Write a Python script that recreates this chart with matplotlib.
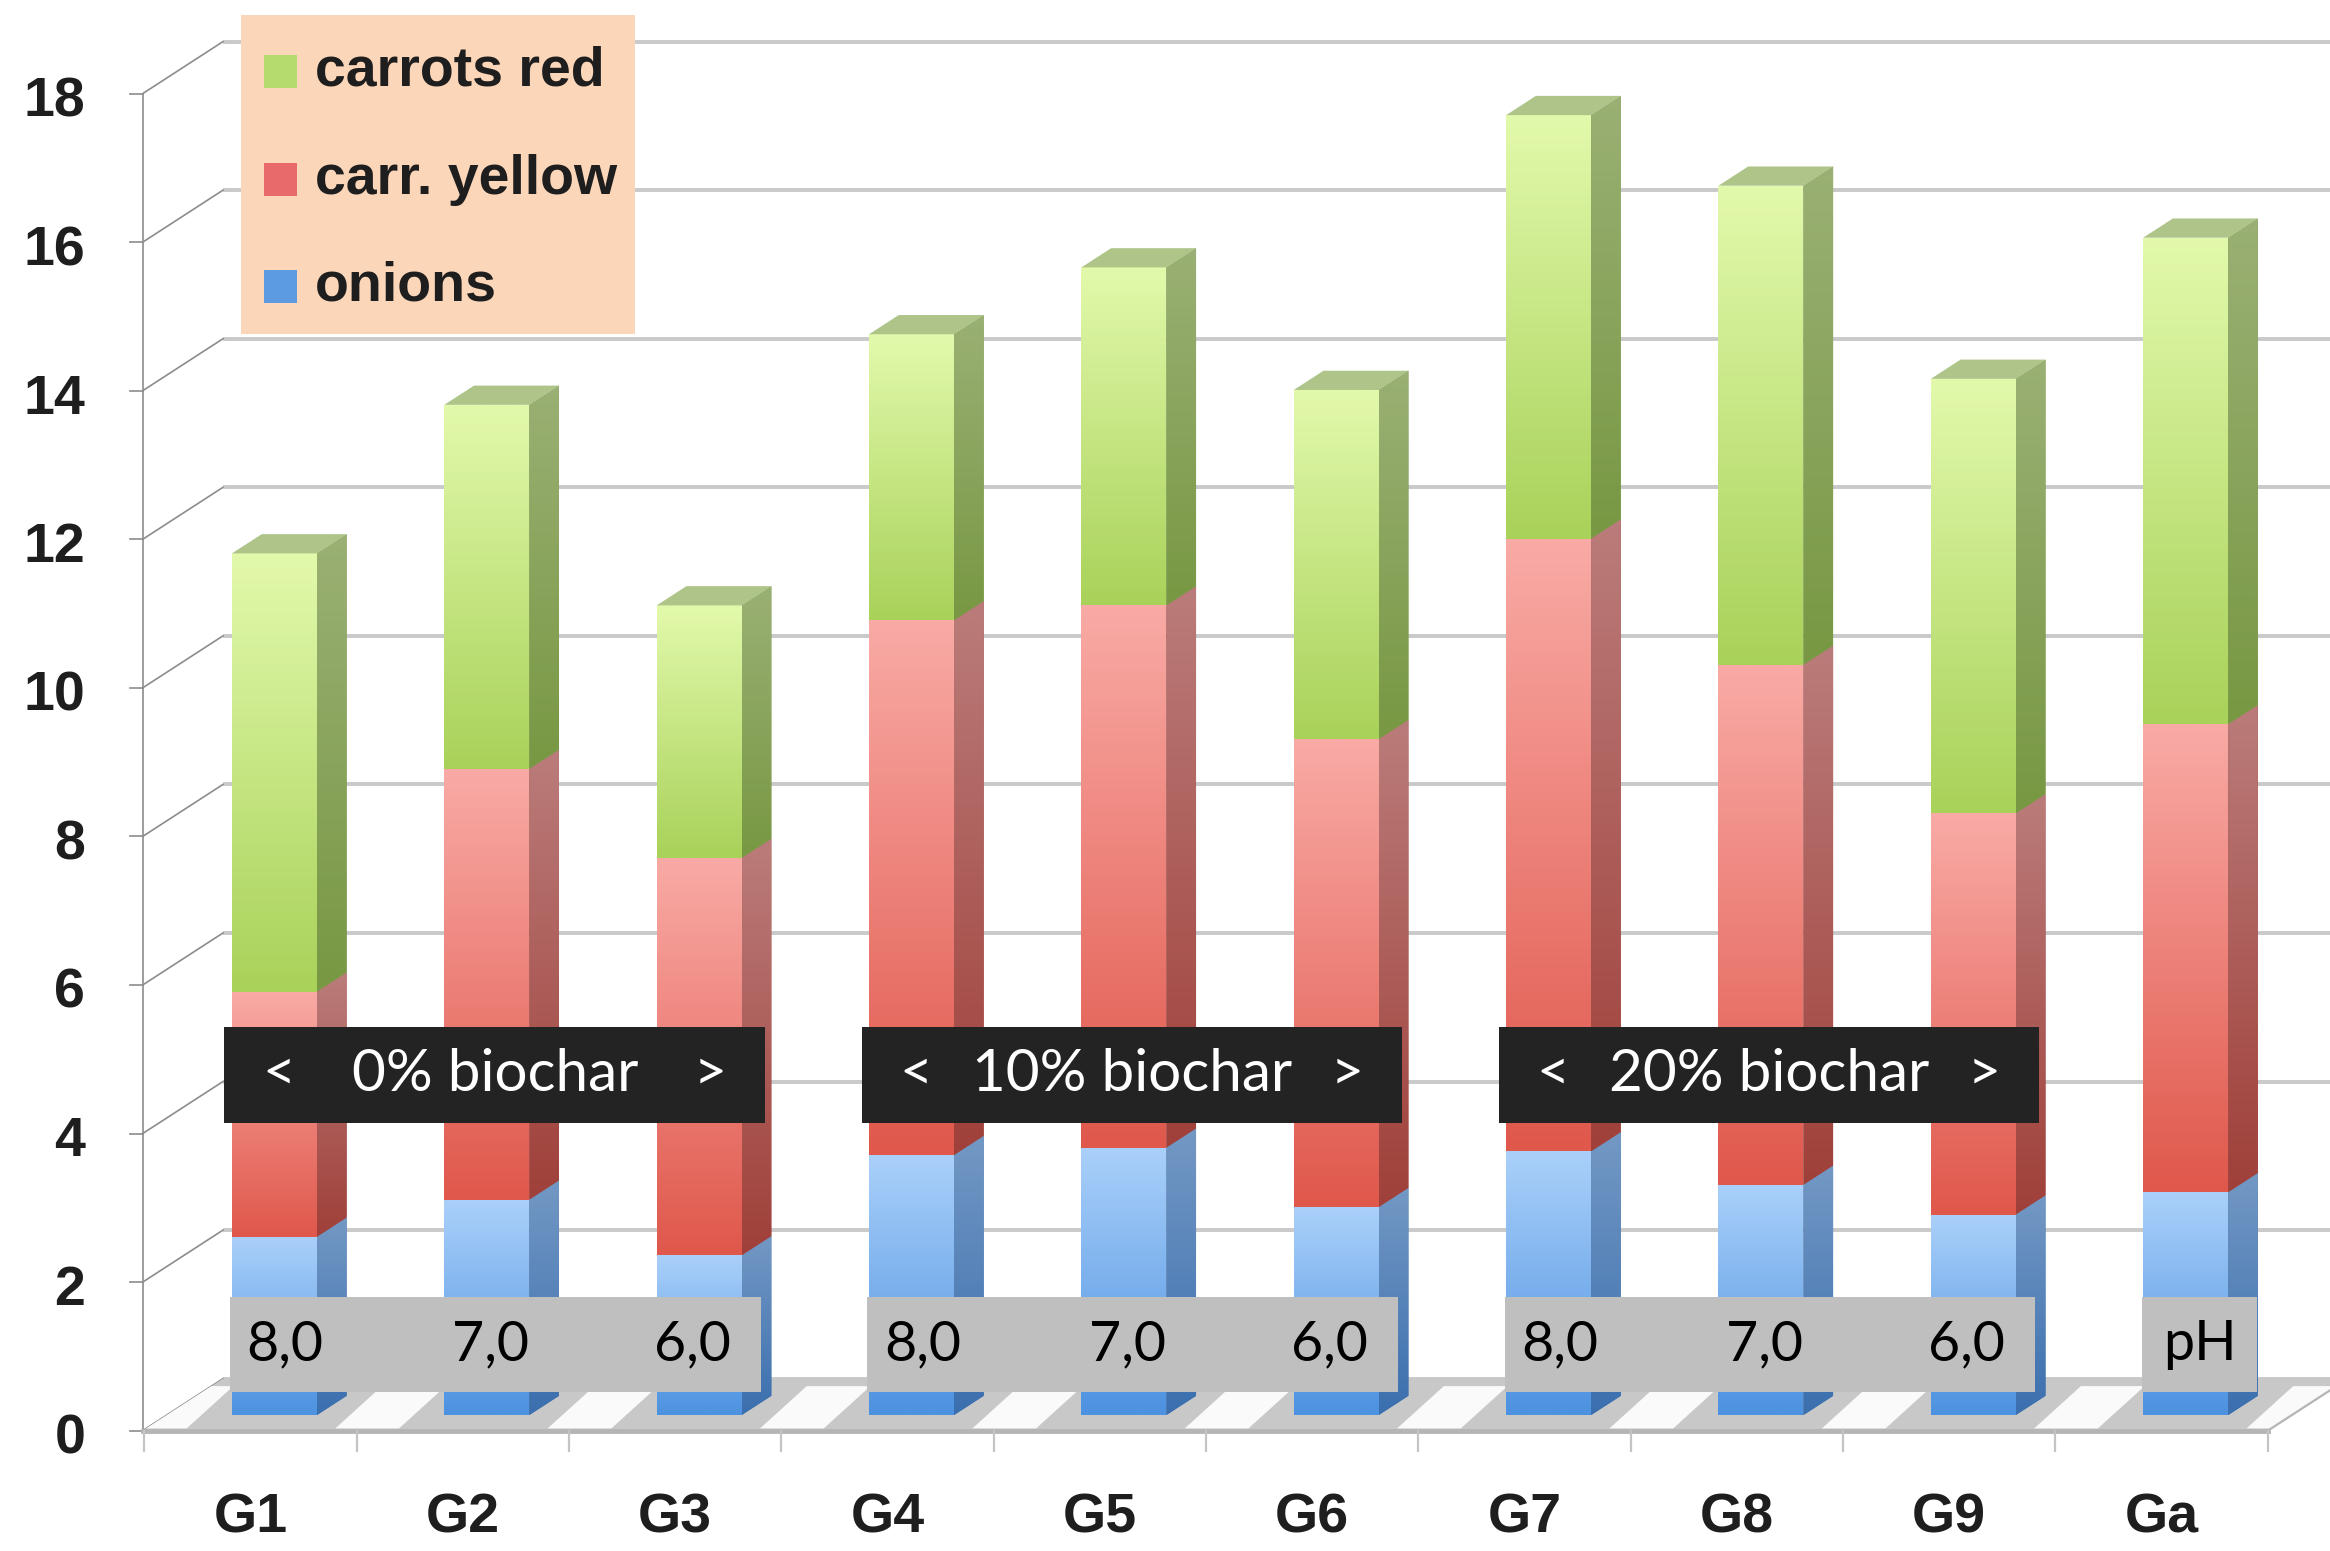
import numpy as np
import matplotlib
matplotlib.use('Agg')
import matplotlib.pyplot as plt
from matplotlib.patches import Polygon, Rectangle
from matplotlib.colors import to_rgb

# ---------------- data ----------------
categories = ['G1', 'G2', 'G3', 'G4', 'G5', 'G6', 'G7', 'G8', 'G9', 'Ga']
onions = [2.4, 2.9, 2.15, 3.5, 3.6, 2.8, 3.55, 3.1, 2.7, 3.0]
carr_yellow = [3.3, 5.8, 5.35, 7.2, 7.3, 6.3, 8.25, 7.0, 5.4, 6.3]
carrots_red = [5.9, 4.9, 3.4, 3.85, 4.55, 4.7, 5.7, 6.45, 5.85, 6.55]
legend_names = ['carrots red', 'carr. yellow', 'onions']
yticks = list(range(0, 19, 2))
group_labels = ['0% biochar', '10% biochar', '20% biochar']
ph_labels = ['8,0', '7,0', '6,0']
ph_title = 'pH'

# ---------------- style / geometry ----------------
DX, DY = 0.378, 0.70          # full depth of the 3-D box (data units)
XL, XR = -0.507, 9.5          # front floor extent
F0, F1 = 0.30, 0.67           # bar depth fractions
W = 0.40                      # bar width

front_grad = {
    'onions': ('#aad0fa', '#4d92e0'),
    'yellow': ('#f9aaa5', '#e0584c'),
    'red': ('#e2f9ab', '#a9d25a'),
}
side_grad = {
    'onions': ('#7398c4', '#3b6fae'),
    'yellow': ('#ba7c7a', '#a0403a'),
    'red': ('#9ab074', '#789843'),
}
top_color = '#aec489'
legend_colors = ['#b5da6e', '#e86a6a', '#5c9be2']

label_font = ['Liberation Sans', 'DejaVu Sans']
box_font = ['Lato', 'DejaVu Sans']

fig = plt.figure(figsize=(23.3, 15.51), dpi=100)
ax = fig.add_axes([0, 0, 1, 1])
ax.set_xlim(-1.179, 9.793)
ax.set_ylim(-1.62, 19.26)
ax.axis('off')


def grad_img(c_top, c_bot, n=64):
    a = np.array(to_rgb(c_top))
    b = np.array(to_rgb(c_bot))
    t = np.linspace(0, 1, n)[:, None]
    return (a * (1 - t) + b * t)[:, None, :]


# ---------------- walls, grid ----------------
for v in yticks:
    ax.plot([XL + DX, 10.6], [v + DY, v + DY], color='#c9c9c9', lw=2.8,
            solid_capstyle='butt', zorder=1)
    ax.plot([XL, XL + DX], [v, v + DY], color='#8c8c8c', lw=1.2, zorder=1)
    ax.plot([XL - 0.06, XL], [v, v], color='#8c8c8c', lw=1.2, zorder=1)
    ax.text(XL - 0.27, v - 0.12, str(v), ha='right', va='center',
            fontsize=40, fontweight='bold', color='#1e1e1e', family=label_font)
ax.plot([XL, XL], [0, yticks[-1]], color='#8c8c8c', lw=1.2, zorder=1)

# floor
floor = Polygon([(XL, 0), (XR, 0), (XR + DX, DY), (XL + DX, DY)], closed=True,
                fc='#c8c8c8', ec='none', zorder=1.5)
ax.add_patch(floor)
for i in range(-1, len(categories)):
    band = Polygon([(i + 0.40, 0.03), (i + 0.70, 0.03), (i + 0.92, 0.60), (i + 0.62, 0.60)],
                   closed=True, fc='#fafafa', ec='none', zorder=1.6)
    ax.add_patch(band)
    band.set_clip_path(floor)
ax.plot([XL, XR], [0, 0], color='#b5b5b5', lw=3.5, zorder=1.7)
ax.plot([XR, XR + DX], [0, DY], color='#b5b5b5', lw=1.6, zorder=1.7)
for i in range(-1, len(categories)):
    ax.plot([i + 0.5, i + 0.5], [0, -0.28], color='#c4c4c4', lw=1.6, zorder=1.7)

# x labels
for i, c in enumerate(categories):
    ax.text(i, -1.18, c, ha='center', va='center', fontsize=40,
            fontweight='bold', color='#1e1e1e', family=label_font)

# ---------------- bars ----------------
ox, oy = F0 * DX, F0 * DY
bdx, bdy = (F1 - F0) * DX, (F1 - F0) * DY
x = np.arange(len(categories)) + ox
bottom = np.zeros(len(categories))
series = [('onions', onions), ('yellow', carr_yellow), ('red', carrots_red)]
for k, (key, vals) in enumerate(series):
    vals = np.asarray(vals, float)
    bars = ax.bar(x, vals, W, bottom=bottom + oy, color=front_grad[key][1],
                  linewidth=0, zorder=3)
    for j, p in enumerate(bars.patches):
        bb = p.get_bbox()
        im = ax.imshow(grad_img(*front_grad[key]),
                       extent=(bb.x0, bb.x1, bb.y0, bb.y1), origin='upper',
                       aspect='auto', zorder=3.1, interpolation='bilinear')
        im.set_clip_path(p)
        xr = bb.x1
        b, t = bb.y0, bb.y1
        side = Polygon([(xr, b), (xr + bdx, b + bdy), (xr + bdx, t + bdy), (xr, t)],
                       closed=True, fc=side_grad[key][1], ec='none', zorder=3)
        ax.add_patch(side)
        im2 = ax.imshow(grad_img(*side_grad[key]),
                        extent=(xr, xr + bdx, b, t + bdy), origin='upper',
                        aspect='auto', zorder=3.1, interpolation='bilinear')
        im2.set_clip_path(side)
        if k == len(series) - 1:
            top = Polygon([(bb.x0, t), (bb.x1, t), (bb.x1 + bdx, t + bdy),
                           (bb.x0 + bdx, t + bdy)], closed=True,
                          fc=top_color, ec='none', zorder=3.2)
            ax.add_patch(top)
    bottom = bottom + vals

# ---------------- annotation boxes ----------------
for g, lab in enumerate(group_labels):
    s = 3 * g
    ax.add_patch(Rectangle((s - 0.122, 4.14), 2.547, 1.30, fc='#232323',
                           ec='none', zorder=10))
    ax.text(s + 0.136, 4.8, '<', ha='center', va='center', color='white',
            fontsize=41, family=box_font, zorder=11)
    ax.text(s + 2.165, 4.8, '>', ha='center', va='center', color='white',
            fontsize=41, family=box_font, zorder=11)
    ax.text(s + 1.151, 4.8, lab, ha='center', va='center', color='white',
            fontsize=42, family=box_font, zorder=11)

    ax.add_patch(Rectangle((s - 0.094, 0.52), 2.498, 1.28, fc='#bfbfbf',
                           ec='none', zorder=10))
    for q, (dxp, ph) in enumerate(zip([0.164, 1.13, 2.08], ph_labels)):
        ax.text(s + dxp, 1.16, ph, ha='center', va='center', color='black',
                fontsize=40, family=box_font, zorder=11)

ax.add_patch(Rectangle((9 - 0.09, 0.52), 0.54, 1.28, fc='#bfbfbf', ec='none',
                       zorder=10))
ax.text(9 + 0.18, 1.16, ph_title, ha='center', va='center', color='black',
        fontsize=40, family=box_font, zorder=11)

# ---------------- legend ----------------
ax.add_patch(Rectangle((-0.045, 14.76), 1.854, 4.30, fc='#fcd6b9', ec='none',
                       zorder=10))
for r, (name, col) in enumerate(zip(legend_names, legend_colors)):
    yy = [18.3, 16.84, 15.4][r]
    ax.add_patch(Rectangle((0.066, yy - 0.22), 0.154, 0.44, fc=col, ec='none',
                           zorder=11))
    ax.text(0.304, yy, name, ha='left', va='center', fontsize=40,
            fontweight='bold', color='#1e1e1e', family=label_font, zorder=11)

fig.savefig('out.png', dpi=100)
